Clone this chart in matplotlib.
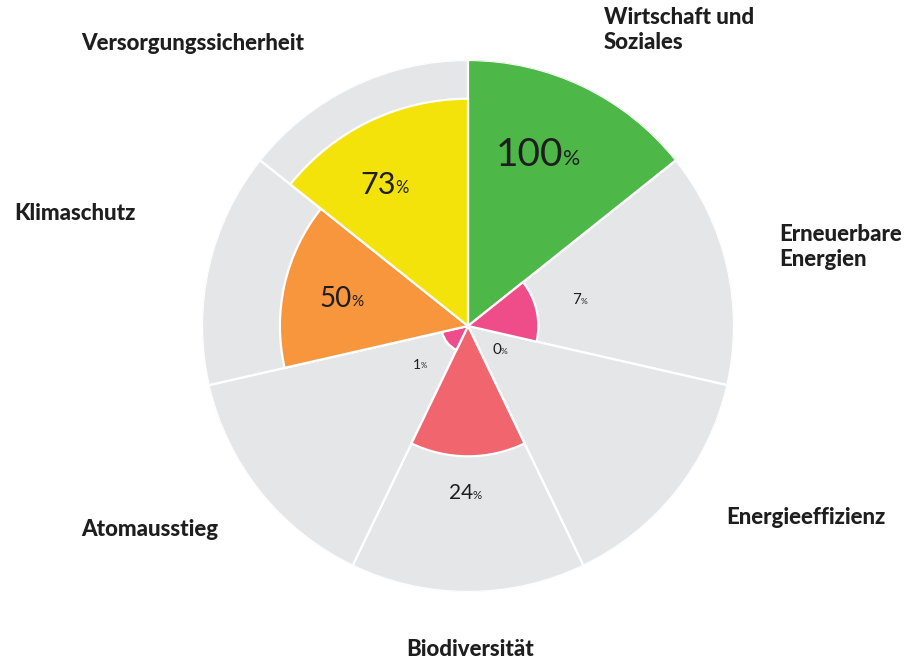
import numpy as np
import matplotlib
matplotlib.use("Agg")
import matplotlib.pyplot as plt
from matplotlib.transforms import offset_copy

categories = ["Wirtschaft und\nSoziales", "Erneuerbare\nEnergien", "Energieeffizienz",
              "Biodiversität", "Atomausstieg", "Klimaschutz", "Versorgungssicherheit"]
values = [100, 7, 0, 24, 1, 50, 73]
colors = ["#4db848", "#ee4d8a", "#ee4d8a", "#f1666e", "#ee4d8a", "#f7963d", "#f4e30a"]
value_sizes = [28, 11, 11, 15, 10, 20, 22]
value_pos = [(0.695, 22.3), (0.432, 77), (0.15, 127), (0.628, 180.7),
             (0.232, 231), (0.484, 282), (0.615, 329.5)]
label_pos = [  # figure pixel (x from left, y from top), ha
    (604, 30, "left"), (779, 247, "left"), (726, 518, "left"),
    (470, 649, "center"), (150, 529, "center"), (75, 214, "center"),
    (193, 44, "center")]

W, H = 908, 662
fig = plt.figure(figsize=(W / 100, H / 100), dpi=100)
cx, cy, R = 468, 326, 266
ax = fig.add_axes([(cx - R) / W, (H - cy - R) / H, 2 * R / W, 2 * R / H], projection="polar")
ax.set_theta_zero_location("N")
ax.set_theta_direction(-1)
ax.set_ylim(0, 1)
ax.axis("off")

n = len(categories)
width = 2 * np.pi / n
theta = np.arange(n) * width
ax.bar(theta, [1] * n, width=width, align="edge", color="#e5e6e8",
       edgecolor="white", linewidth=1.6, zorder=1)
radii = np.sqrt(np.array(values) / 100.0)
ax.bar(theta, radii, width=width, align="edge", color=colors,
       edgecolor="white", linewidth=1.6, zorder=2)

for v, (r, a), fs in zip(values, value_pos, value_sizes):
    t = ax.text(np.deg2rad(a), r, str(v), fontsize=fs, family="Lato",
                color="#1e1e1e", ha="center", va="center", zorder=5)
    t.set_transform(offset_copy(ax.transData, fig=fig, x=-fs * 0.22, y=0, units="points"))
    ax.annotate("%", xy=(1, 0.12), xycoords=t, xytext=(-0.5, 0), textcoords="offset points",
                fontsize=fs * 0.55, family="Lato", color="#1e1e1e", ha="left", va="bottom",
                zorder=5)

for lab, (x, y, ha) in zip(categories, label_pos):
    fig.text(x / W, 1 - y / H, lab, fontsize=16, family="Lato", fontweight="black",
             color="#1e1e1e", ha=ha, va="center", linespacing=1.2)

fig.savefig("out.png", dpi=100, facecolor="white")
